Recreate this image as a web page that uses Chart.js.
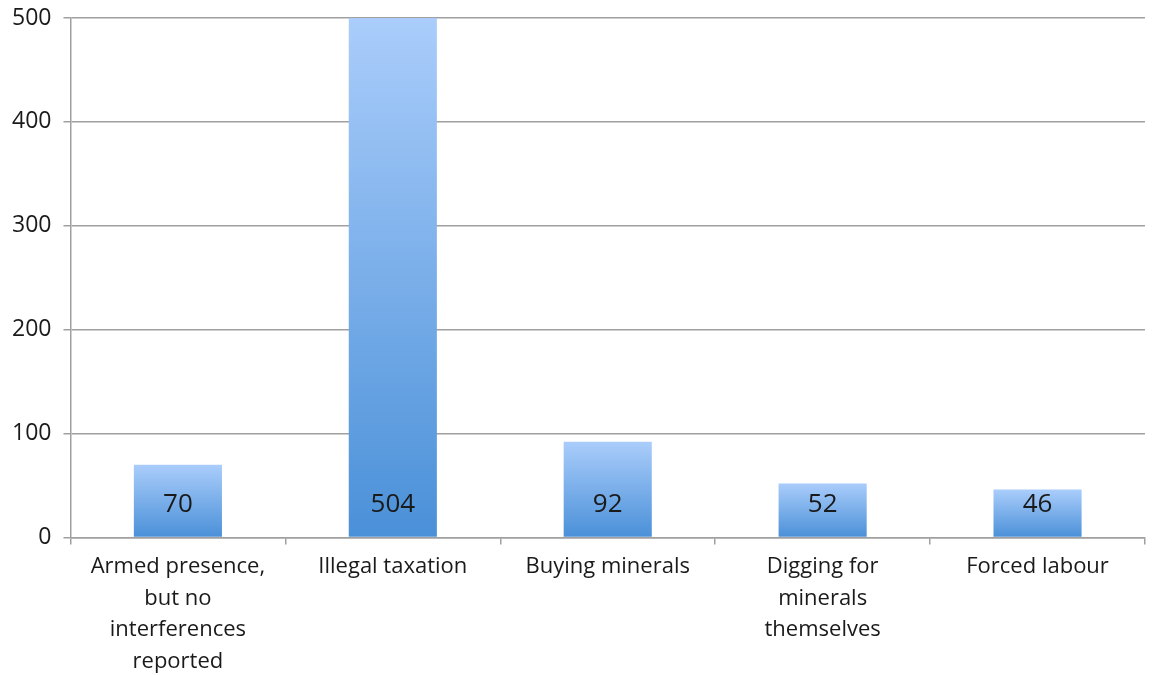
<!DOCTYPE html>
<html>
<head>
<meta charset="utf-8">
<script src="https://cdn.jsdelivr.net/npm/chart.js@4"></script>
<style>
  html, body { margin: 0; padding: 0; background: #fff; }
  #wrap { width: 1155px; height: 675px; }
</style>
</head>
<body>
<div id="wrap"><canvas id="myChart"></canvas></div>
<script>
const categories = [
    ['Armed presence,', 'but no', 'interferences', 'reported'],
    'Illegal taxation',
    'Buying minerals',
    ['Digging for', 'minerals', 'themselves'],
    'Forced labour'
];
const counts = [70, 504, 92, 52, 46];
const yTicks = [0, 100, 200, 300, 400, 500];

const fontFamily = '"Open Sans", "DejaVu Sans", sans-serif';

// each bar gets its own top-to-bottom gradient
function barGradient(context) {
    const chart = context.chart;
    const yScale = chart.scales.y;
    if (!chart.chartArea || !yScale || context.parsed === undefined) return '#7aaeea';
    const top = Math.max(yScale.getPixelForValue(context.parsed.y), chart.chartArea.top);
    const bottom = yScale.getPixelForValue(0);
    const g = chart.ctx.createLinearGradient(0, top, 0, bottom);
    g.addColorStop(0, '#aacdfb');
    g.addColorStop(1, '#4a90d8');
    return g;
}

// value labels sitting near the bottom of each bar
const valueLabels = {
    id: 'valueLabels',
    afterDatasetsDraw(chart) {
        const ctx = chart.ctx;
        const meta = chart.getDatasetMeta(0);
        ctx.save();
        ctx.font = '26px ' + fontFamily;
        ctx.fillStyle = '#1a1a1a';
        ctx.textAlign = 'center';
        ctx.textBaseline = 'middle';
        meta.data.forEach((bar, i) => {
            ctx.fillText(String(counts[i]), bar.x, bar.base - 32);
        });
        ctx.restore();
    }
};

const ctx = document.getElementById('myChart').getContext('2d');
let myChart = new Chart(ctx, {
    type: 'bar',
    data: {
        labels: categories,
        datasets: [{
            data: counts,
            backgroundColor: barGradient,
            borderWidth: 0,
            categoryPercentage: 1.0,
            barPercentage: 0.41
        }]
    },
    options: {
        responsive: true,
        maintainAspectRatio: false,
        animation: false,
        layout: { padding: { top: 0, right: 10, left: 0, bottom: -9 } },
        plugins: {
            legend: { display: false },
            tooltip: { enabled: false }
        },
        scales: {
            x: {
                grid: {
                    offset: true,
                    drawOnChartArea: false,
                    color: '#a0a0a0',
                    lineWidth: 1.5,
                    tickLength: 7
                },
                border: { color: '#a0a0a0', width: 1.5 },
                ticks: {
                    color: '#1a1a1a',
                    font: { family: fontFamily, size: 22, lineHeight: 1.45 },
                    padding: 6,
                    maxRotation: 0,
                    autoSkip: false
                }
            },
            y: {
                min: 0,
                max: 500,
                afterBuildTicks: axis => { axis.ticks = yTicks.map(v => ({ value: v })); },
                afterFit: axis => { axis.paddingTop = 18; },
                grid: {
                    color: '#a0a0a0',
                    lineWidth: 1.5,
                    tickLength: 7
                },
                border: { color: '#a0a0a0', width: 1.5 },
                ticks: {
                    color: '#1a1a1a',
                    font: { family: fontFamily, size: 23 },
                    padding: 12
                }
            }
        }
    },
    plugins: [valueLabels]
});
</script>
</body>
</html>
